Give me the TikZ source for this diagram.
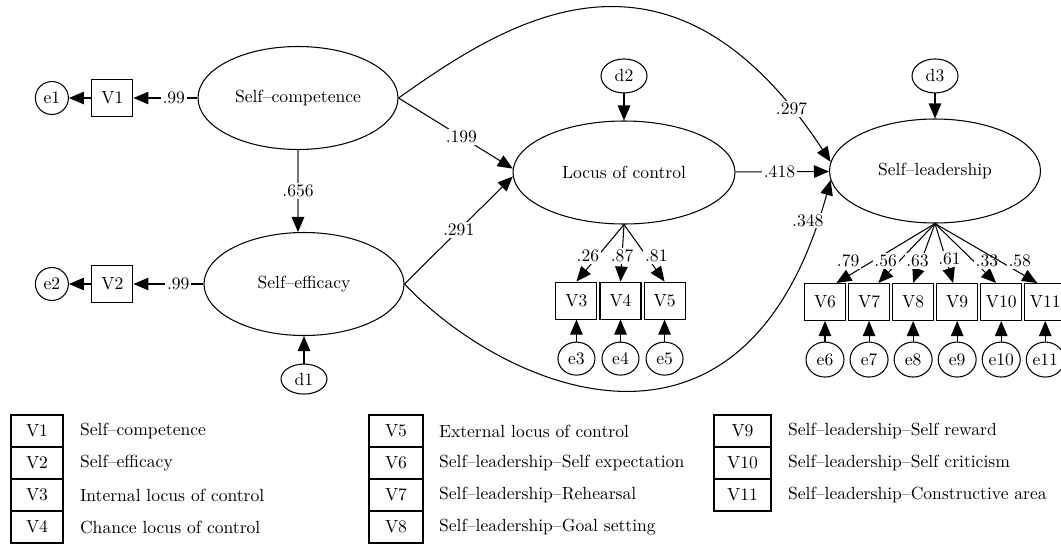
\documentclass[tikz,border=0pt]{standalone}
\usetikzlibrary{arrows.meta, shapes.geometric, calc, positioning}
\tikzstyle{latent} = [ellipse, draw=black, minimum width=4cm, minimum height=2.06cm, inner sep=0pt, text centered]
\tikzstyle{obs} = [rectangle, draw=black, minimum width=0.82cm, minimum height=0.74cm, inner sep=0pt]
\tikzstyle{err} = [ellipse, draw=black, minimum width=0.74cm, minimum height=0.66cm, inner sep=0pt]
\tikzstyle{coef} = [fill=white, inner sep=1pt]
\tikzstyle{arrow} = [-{Triangle[length=0.3cm,width=0.25cm,color=black]}]
\tikzstyle{key} = [rectangle, draw=black, minimum width=1.04cm, minimum height=0.64cm, inner sep=0pt]
\tikzstyle{desc} = [anchor=west, inner sep=0pt]

\begin{document}
\begin{tikzpicture}[line width=0.6pt, node distance=0.64cm]
    \useasboundingbox (0,0) rectangle (21.22,-10.88);
    % latent variables
    \node (sc) [latent] at (5.96,-1.96) {Self--competence};
    \node (se) [latent] at (6.08,-5.68) {Self--efficacy};
    \node (lc) [latent, minimum width=4.44cm] at (12.48,-3.45) {Locus of control};
    \node (sl) [latent, minimum width=4.22cm, minimum height=2.08cm] at (18.70,-3.42) {Self--leadership};
    % disturbances
    \node (d1) [err, below=0.55cm of se, minimum width=0.92cm, minimum height=0.6cm] {d1};
    \node (d2) [err, above=0.54cm of lc, minimum width=0.92cm, minimum height=0.68cm] {d2};
    \node (d3) [err, above=0.5cm of sl, minimum width=0.92cm, minimum height=0.68cm] {d3};
    % observed variables
    \node (v1) [obs, left=1.28cm of sc] {V1};
    \node (e1) [err, left=0.45cm of v1, minimum width=0.66cm] {e1};
    \node (v2) [obs, left=1.4cm of se] {V2};
    \node (e2) [err, left=0.45cm of v2, minimum width=0.66cm] {e2};
    \node (v4) [obs, below=1.14cm of lc, xshift=-0.07cm] {V4};
    \node (v3) [obs, left=0.04cm of v4] {V3};
    \node (v5) [obs, right=0.04cm of v4] {V5};
    \node (e3) [err, below=0.44cm of v3] {e3};
    \node (e4) [err, below=0.44cm of v4] {e4};
    \node (e5) [err, below=0.44cm of v5] {e5};
    \node (v6) [obs] at (16.50,-6.04) {V6};
    \node (v7) [obs, right=0.04cm of v6] {V7};
    \node (v8) [obs, right=0.04cm of v7] {V8};
    \node (v9) [obs, right=0.04cm of v8] {V9};
    \node (v10) [obs, right=0.04cm of v9] {V10};
    \node (v11) [obs, right=0.04cm of v10] {V11};
    \node (e6) [err, below=0.41cm of v6, minimum width=0.76cm, minimum height=0.7cm] {e6};
    \node (e7) [err, below=0.41cm of v7, minimum width=0.76cm, minimum height=0.7cm] {e7};
    \node (e8) [err, below=0.41cm of v8, minimum width=0.76cm, minimum height=0.7cm] {e8};
    \node (e9) [err, below=0.41cm of v9, minimum width=0.76cm, minimum height=0.7cm] {e9};
    \node (e10) [err, below=0.41cm of v10, minimum width=0.76cm, minimum height=0.7cm] {e10};
    \node (e11) [err, below=0.41cm of v11, minimum width=0.76cm, minimum height=0.7cm] {e11};
    % measurement paths
    \draw [arrow] (sc) -- node[coef, pos=0.37] {.99} (v1);
    \draw [arrow] (v1) -- (e1);
    \draw [arrow] (se) -- node[coef, pos=0.36] {.99} (v2);
    \draw [arrow] (v2) -- (e2);
    \draw [arrow] (lc.south) -- node[coef, pos=0.55, xshift=-0.2cm] {.26} (v3.north);
    \draw [arrow] (lc.south) -- node[coef, pos=0.55] {.87} (v4.north);
    \draw [arrow] (lc.south) -- node[coef, pos=0.55, xshift=0.2cm] {.81} (v5.north);
    \draw [arrow] (sl.south) -- node[coef, pos=0.8, xshift=-0.16cm, yshift=0.2cm] {.79} (v6.59);
    \draw [arrow] (sl.south) -- node[coef, pos=0.8, xshift=-0.08cm, yshift=0.2cm] {.56} (v7.64);
    \draw [arrow] (sl.south) -- node[coef, pos=0.8, yshift=0.2cm] {.63} (v8.north);
    \draw [arrow] (sl.south) -- node[coef, pos=0.8, yshift=0.24cm] {.61} (v9.102);
    \draw [arrow] (sl.south) -- node[coef, pos=0.8, xshift=0.06cm, yshift=0.2cm] {.33} (v10.105);
    \draw [arrow] (sl.south) -- node[coef, pos=0.8, xshift=0.06cm, yshift=0.2cm] {.58} (v11.113);
    \draw [arrow] (e3) -- (v3);
    \draw [arrow] (e4) -- (v4);
    \draw [arrow] (e5) -- (v5);
    \draw [arrow] (e6) -- (v6);
    \draw [arrow] (e7) -- (v7);
    \draw [arrow] (e8) -- (v8);
    \draw [arrow] (e9) -- (v9);
    \draw [arrow] (e10) -- (v10);
    \draw [arrow] (e11) -- (v11);
    % structural paths
    \draw [arrow] (d1) -- (se);
    \draw [arrow] (d2) -- (lc);
    \draw [arrow] (d3) -- (sl);
    \draw [arrow, draw=black!55] (sc.south) -- node[coef, text=black] {.656} (sc.south |- se.north);
    \draw [arrow] (sc.east) -- node[coef, pos=0.55] {.199} (lc.178);
    \draw [arrow] (se.east) -- node[coef, pos=0.5] {.291} (lc.182);
    \draw [arrow] (lc) -- node[coef, pos=0.47] {.418} (sl);
    \draw [arrow] (sc.east) .. controls (10.08,-0.47) and (13.36,1.72) .. node[coef, pos=0.92] {.297} (sl.175);
    \draw [arrow] (se.east) .. controls (9.98,-7.70) and (14.86,-9.98) .. node[coef, pos=0.955, xshift=-0.2cm] {.348} (sl.185);
    % legend
    \node (k1) [key] at (0.74,-8.62) {V1};
    \node (t1) [desc, right=0.32cm of k1] {Self--competence};
    \node (k2) [key, below of=k1] {V2};
    \node (t2) [desc, right=0.32cm of k2] {Self--efficacy};
    \node (k3) [key, below of=k2] {V3};
    \node (t3) [desc, right=0.32cm of k3] {Internal locus of control};
    \node (k4) [key, below of=k3] {V4};
    \node (t4) [desc, right=0.32cm of k4] {Chance locus of control};
    \node (k5) [key, minimum width=1.08cm] at (7.92,-8.62) {V5};
    \node (t5) [desc, right=0.3cm of k5] {External locus of control};
    \node (k6) [key, minimum width=1.08cm, below of=k5] {V6};
    \node (t6) [desc, right=0.3cm of k6] {Self--leadership--Self expectation};
    \node (k7) [key, minimum width=1.08cm, below of=k6] {V7};
    \node (t7) [desc, right=0.3cm of k7] {Self--leadership--Rehearsal};
    \node (k8) [key, minimum width=1.08cm, below of=k7] {V8};
    \node (t8) [desc, right=0.3cm of k8] {Self--leadership--Goal setting};
    \node (k9) [key, minimum width=1.14cm] at (14.85,-8.62) {V9};
    \node (t9) [desc, right=0.32cm of k9] {Self--leadership--Self reward};
    \node (k10) [key, minimum width=1.14cm, below of=k9] {V10};
    \node (t10) [desc, right=0.32cm of k10] {Self--leadership--Self criticism};
    \node (k11) [key, minimum width=1.14cm, below of=k10] {V11};
    \node (t11) [desc, right=0.32cm of k11] {Self--leadership--Constructive area};
\end{tikzpicture}
\end{document}
